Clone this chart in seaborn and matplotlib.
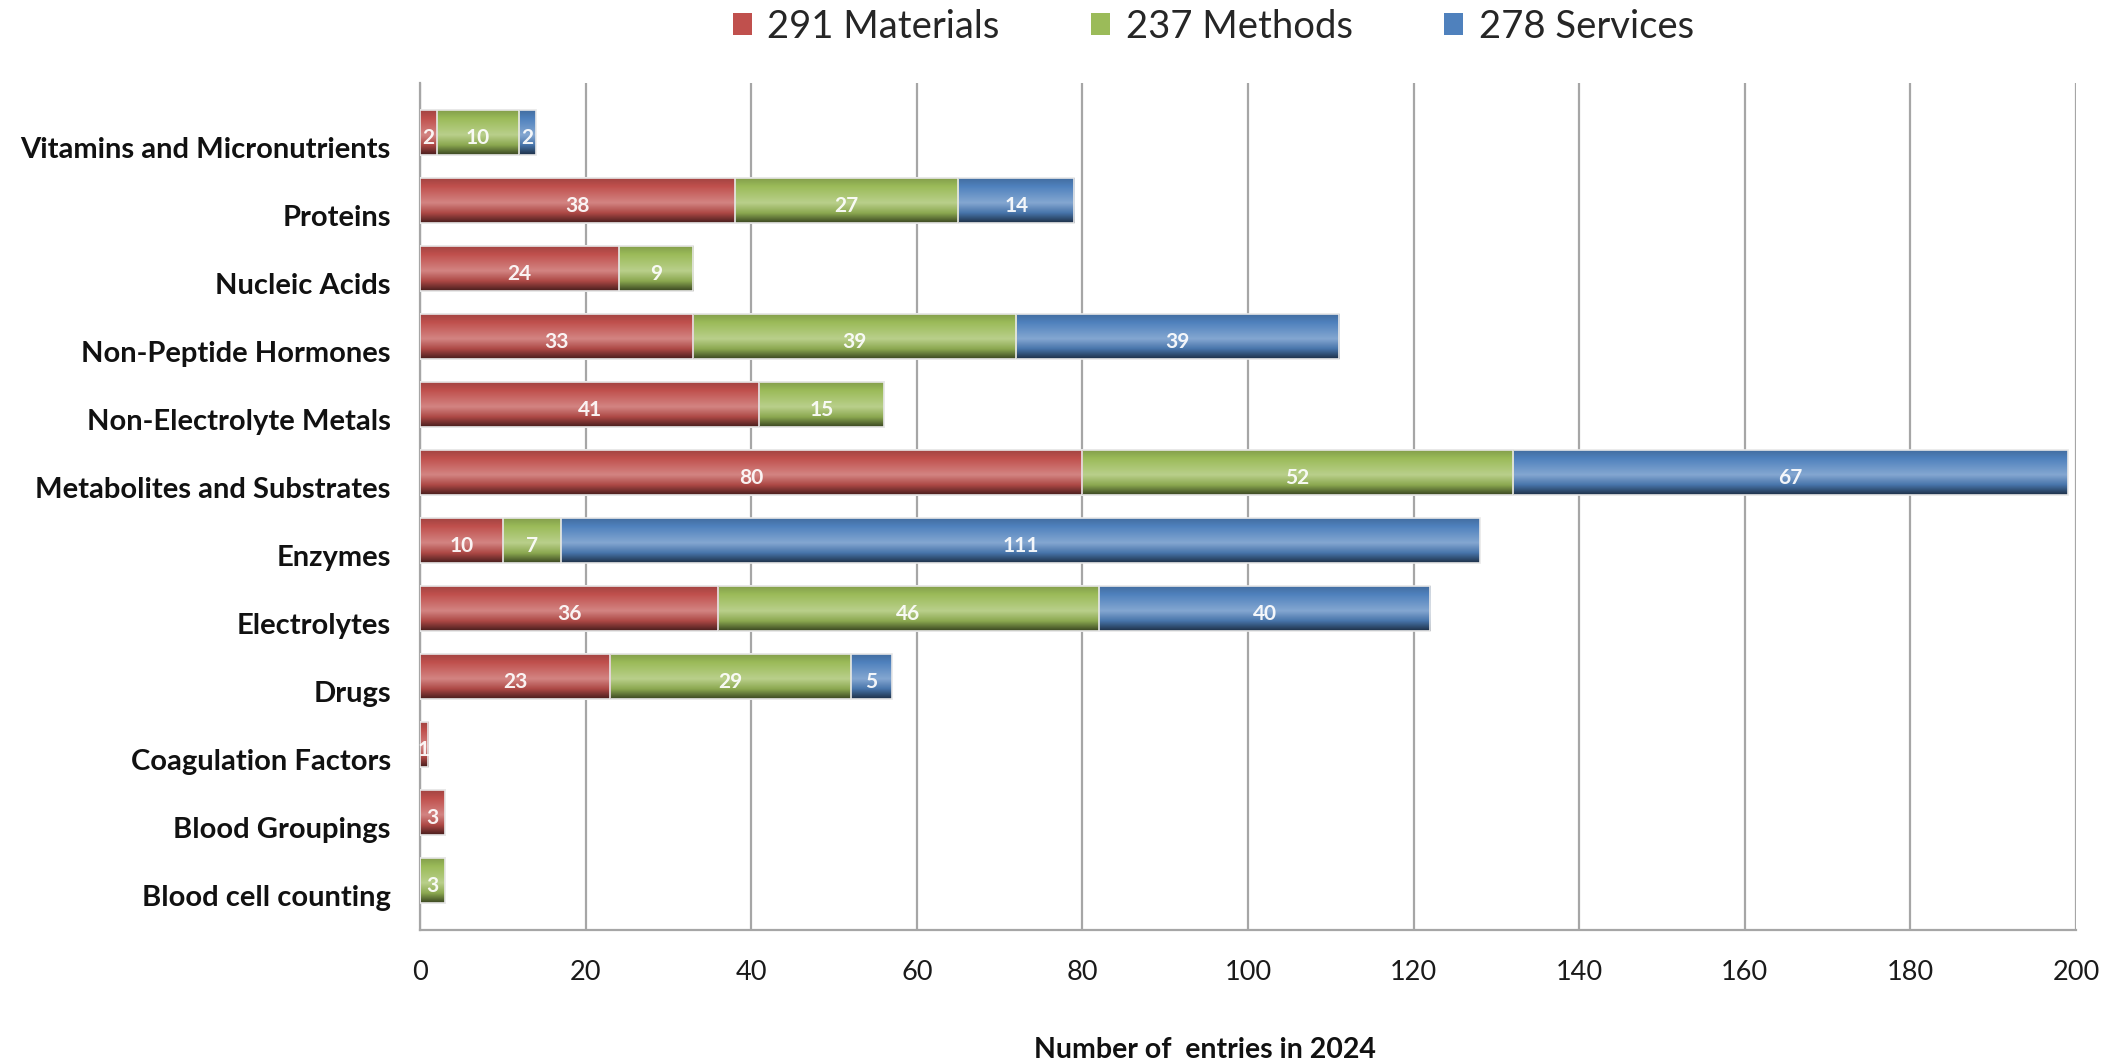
import numpy as np
import pandas as pd
import matplotlib
matplotlib.use("Agg")
import matplotlib.pyplot as plt
import matplotlib.transforms as mtransforms
from matplotlib.patches import Patch
from matplotlib.colors import to_rgb
import seaborn as sns

# ---- data -----------------------------------------------------------------
categories = [
    "Vitamins and Micronutrients",
    "Proteins",
    "Nucleic Acids",
    "Non-Peptide Hormones",
    "Non-Electrolyte Metals",
    "Metabolites and Substrates",
    "Enzymes",
    "Electrolytes",
    "Drugs",
    "Coagulation Factors",
    "Blood Groupings",
    "Blood cell counting",
]
materials = [2, 38, 24, 33, 41, 80, 10, 36, 23, 1, 3, 0]
methods = [10, 27, 9, 39, 15, 52, 7, 46, 29, 0, 0, 3]
services = [2, 14, 0, 39, 0, 67, 111, 40, 5, 0, 0, 0]

series_names = ["Materials", "Methods", "Services"]
series_colors = ["#c0504d", "#9bbb59", "#4f81bd"]
x_ticks = [0, 20, 40, 60, 80, 100, 120, 140, 160, 180, 200]
x_label = "Number of  entries in 2024"

# ---- style ----------------------------------------------------------------
sns.set_theme(style="white")
plt.rcParams["font.family"] = ["Lato", "DejaVu Sans"]

df = pd.DataFrame({
    "category": categories,
    "Materials": materials,
    "Methods": methods,
    "Services": services,
})
df["cum1"] = df["Materials"]
df["cum2"] = df["Materials"] + df["Methods"]
df["cum3"] = df["cum2"] + df["Services"]

fig = plt.figure(figsize=(21.21, 10.64), dpi=100)
ax = fig.add_axes([0.198, 0.126, 0.7808, 0.796])

BAR_H = 0.66

# stacked bars: draw cumulative totals from the longest down
layers = [("cum3", series_colors[2]), ("cum2", series_colors[1]), ("cum1", series_colors[0])]
for i, (col, color) in enumerate(layers):
    sns.barplot(data=df, x=col, y="category", orient="h", color=color,
                width=BAR_H, ax=ax, saturation=1, zorder=2 + i,
                edgecolor="#e8e8e8", linewidth=1.2)


def shade(color):
    """Cylinder-like vertical shading for a bar of the given base colour."""
    base = np.array(to_rgb(color))
    white = np.ones(3)
    stops = [
        (0.00, base * 0.85),
        (0.18, base * 1.0),
        (0.55, base + (white - base) * 0.30),
        (0.78, base * 0.90),
        (1.00, base * 0.38),
    ]
    n = 64
    t = np.linspace(0, 1, n)
    pos = [s[0] for s in stops]
    grad = np.zeros((n, 1, 3))
    for c in range(3):
        grad[:, 0, c] = np.interp(t, pos, [s[1][c] for s in stops])
    return np.clip(grad, 0, 1)


# replace flat fills with shaded images, one per bar
for patch in list(ax.patches):
    w = patch.get_width()
    if w <= 0:
        continue
    x0 = patch.get_x()
    y0 = patch.get_y()
    h = patch.get_height()
    face = patch.get_facecolor()
    img = ax.imshow(shade(face[:3]), extent=(x0, x0 + w, y0 + h, y0),
                    origin="upper", aspect="auto", interpolation="bilinear",
                    zorder=patch.get_zorder())
    img.set_clip_path(patch)
    patch.set_facecolor("none")
    patch.set_zorder(patch.get_zorder() + 0.5)

# value labels in each segment
for yi in range(len(categories)):
    left = 0
    for name in series_names:
        v = df.loc[yi, name]
        if v > 0:
            ax.annotate(str(v), xy=(left + v / 2, yi), xytext=(0, -4),
                        textcoords="offset points", ha="center", va="center",
                        color="white", fontsize=15, fontweight="bold",
                        alpha=0.92, zorder=10)
        left += v

# axes
ax.set_xlim(0, 200)
ax.set_ylim(len(categories) - 1 + 0.73, -0.73)
ax.set_xticks(x_ticks)
ax.set_xticklabels([str(t) for t in x_ticks])
ax.xaxis.grid(True, color="#a6a6a6", linewidth=1.6, zorder=0)
ax.set_axisbelow(True)
ax.yaxis.grid(False)
for side in ["top", "right"]:
    ax.spines[side].set_visible(False)
for side in ["left", "bottom"]:
    ax.spines[side].set_color("#a6a6a6")
    ax.spines[side].set_linewidth(1.6)
ax.tick_params(axis="x", length=0, pad=22, labelsize=19.5, labelcolor="#1a1a1a")
ax.tick_params(axis="y", length=0, pad=21, labelsize=21, labelcolor="#111111")
for lab in ax.get_yticklabels():
    lab.set_fontweight("bold")
    lab.set_transform(lab.get_transform() +
                      mtransforms.ScaledTranslation(0, -0.15, fig.dpi_scale_trans))
ax.set_ylabel("")
ax.set_xlabel("")
fig.text(0.568, 1 - 1050 / 1064, x_label, ha="center", va="center",
         fontsize=20.5, fontweight="bold", color="#111111")

# legend with series totals
totals = [sum(materials), sum(methods), sum(services)]
handles = [Patch(facecolor=c, edgecolor="none") for c in series_colors]
labels = [f"{t} {n}" for t, n in zip(totals, series_names)]
fig.legend(handles, labels, loc="center", bbox_to_anchor=(0.572, 0.975),
           ncol=3, frameon=False, fontsize=27.5, handlelength=0.5,
           handleheight=0.5, handletextpad=0.4, columnspacing=2.4)

fig.savefig("out.png", dpi=100)
